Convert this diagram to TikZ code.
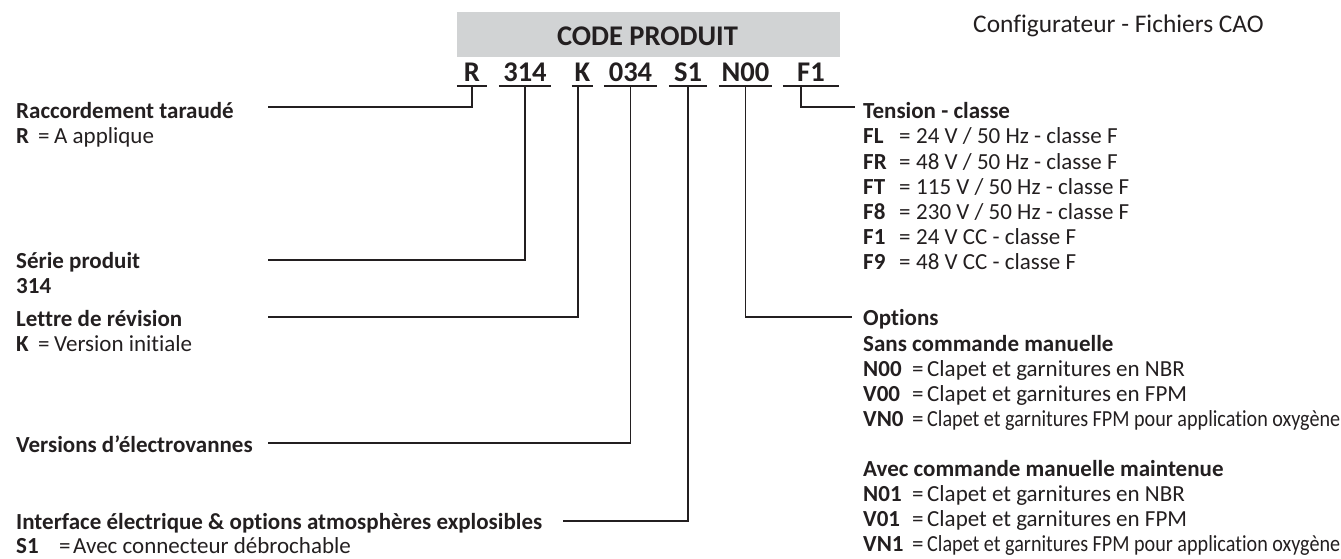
\documentclass[tikz,border=0pt]{standalone}
\usepackage{fontspec}
\setmainfont{Carlito}[Ligatures=NoCommon]
\definecolor{ink}{HTML}{231F20}
\definecolor{boxgray}{HTML}{D1D3D4}
\newcommand\kv[4]{\makebox[#1pt][l]{\bfseries #2}\makebox[#3pt][l]{=}#4}
\newcommand\squeeze[2]{\resizebox{#1pt}{\height}{#2}}
\begin{document}
\begin{tikzpicture}[x=1pt,y=-1pt,
  txt/.style={anchor=base west,inner sep=0pt,text=ink,font=\fontsize{23}{25}\selectfont},
  ttl/.style={txt,font=\fontsize{23}{25}\selectfont\bfseries},
  codeseg/.style={anchor=base,inner xsep=0pt,inner ysep=0pt,text=ink,font=\fontsize{28.5}{30}\selectfont\bfseries,minimum width=#1},
  uline/.style={draw=ink,line width=2.6pt},
  conn/.style={draw=ink,line width=1.7pt}]
\useasboundingbox (0,0) rectangle (1341,559);
% header
\node[fill=boxgray,minimum width=383pt,minimum height=45pt,inner sep=0pt,anchor=north west] (hdr) at (457,12) {};
\node[anchor=base,inner sep=0pt,text=ink,font=\fontsize{28.5}{30}\selectfont\bfseries] (cp) at (647.5,46) {CODE PRODUIT};
\node[txt,font=\fontsize{25.4}{27}\selectfont] (cfg) at (973,33) {Configurateur - Fichiers CAO};
% code segments
\node[codeseg=30pt] (cR) at (472,82) {R};
\node[codeseg=52pt] (c314) at (525,82) {314};
\node[codeseg=21pt] (cK) at (582.5,82) {K};
\node[codeseg=53pt] (c034) at (630.5,82) {034};
\node[codeseg=38pt] (cS1) at (688,82) {S1};
\node[codeseg=53pt] (cN00) at (745.5,82) {N00};
\node[codeseg=56pt] (cF1) at (811,82) {F1};
\foreach \n in {cR,c314,cK,c034,cS1,cN00,cF1}
  \draw[uline] ([yshift=-4pt]\n.base west) -- ([yshift=-4pt]\n.base east);
% left labels
\node[ttl] (rac) at (16,119) {Raccordement taraudé};
\node[txt] (racv) at (16,144) {\kv{22}{R}{16}{A applique}};
\node[ttl] (ser) at (16,268) {Série produit};
\node[ttl] (serv) at (16,293) {314};
\node[ttl] (let) at (16,326) {Lettre de révision};
\node[txt] (letv) at (16,351) {\kv{22}{K}{16}{Version initiale}};
\node[ttl] (ver) at (16,452) {Versions d’électrovannes};
\node[ttl] (int) at (16,529) {Interface électrique \& options atmosphères explosibles};
\node[txt] (intv) at (16,553) {\kv{43}{S1}{14}{Avec connecteur débrochable}};
% right labels
\node[ttl] (ten) at (863,119) {Tension - classe};
\node[txt] (t1) at (863,144) {\kv{36}{FL}{17}{24 V / 50 Hz - classe F}};
\node[txt] (t2) at (863,169) {\kv{36}{FR}{17}{48 V / 50 Hz - classe F}};
\node[txt] (t3) at (863,194) {\kv{36}{FT}{17}{115 V / 50 Hz - classe F}};
\node[txt] (t4) at (863,219) {\kv{36}{F8}{17}{230 V / 50 Hz - classe F}};
\node[txt] (t5) at (863,244) {\kv{36}{F1}{17}{24 V CC - classe F}};
\node[txt] (t6) at (863,269) {\kv{36}{F9}{17}{48 V CC - classe F}};
\node[ttl] (opt) at (863,325) {Options};
\node[ttl] (sans) at (863,351) {Sans commande manuelle};
\node[txt] (o1) at (863,376) {\kv{49}{N00}{15}{Clapet et garnitures en NBR}};
\node[txt] (o2) at (863,401) {\kv{49}{V00}{15}{Clapet et garnitures en FPM}};
\node[txt] (o3) at (863,426) {\kv{49}{VN0}{15}{\squeeze{413}{Clapet et garnitures FPM pour application oxygène}}};
\node[ttl] (avec) at (863,476) {Avec commande manuelle maintenue};
\node[txt] (o4) at (863,501) {\kv{49}{N01}{15}{Clapet et garnitures en NBR}};
\node[txt] (o5) at (863,526) {\kv{49}{V01}{15}{Clapet et garnitures en FPM}};
\node[txt] (o6) at (863,551) {\kv{49}{VN1}{15}{\squeeze{413}{Clapet et garnitures FPM pour application oxygène}}};
% connector ends
\coordinate (eR) at (268,107);
\coordinate (e314) at (268,260);
\coordinate (eK) at (268,317);
\coordinate (e034) at (268,443);
\coordinate (eS1) at (563,521);
\coordinate (eN00) at (852,317);
\coordinate (eF1) at (855,107);
\draw[conn] ([yshift=-4pt]cR.base) |- (eR);
\draw[conn] ([yshift=-4pt]c314.base) |- (e314);
\draw[conn] ([xshift=-4.5pt,yshift=-4pt]cK.base) |- (eK);
\draw[conn] ([yshift=-4pt]c034.base) |- (e034);
\draw[conn] ([yshift=-4pt]cS1.base) |- (eS1);
\draw[conn] ([yshift=-4pt]cN00.base) |- (eN00);
\draw[conn] ([xshift=-10pt,yshift=-4pt]cF1.base) |- (eF1);
\end{tikzpicture}
\end{document}
